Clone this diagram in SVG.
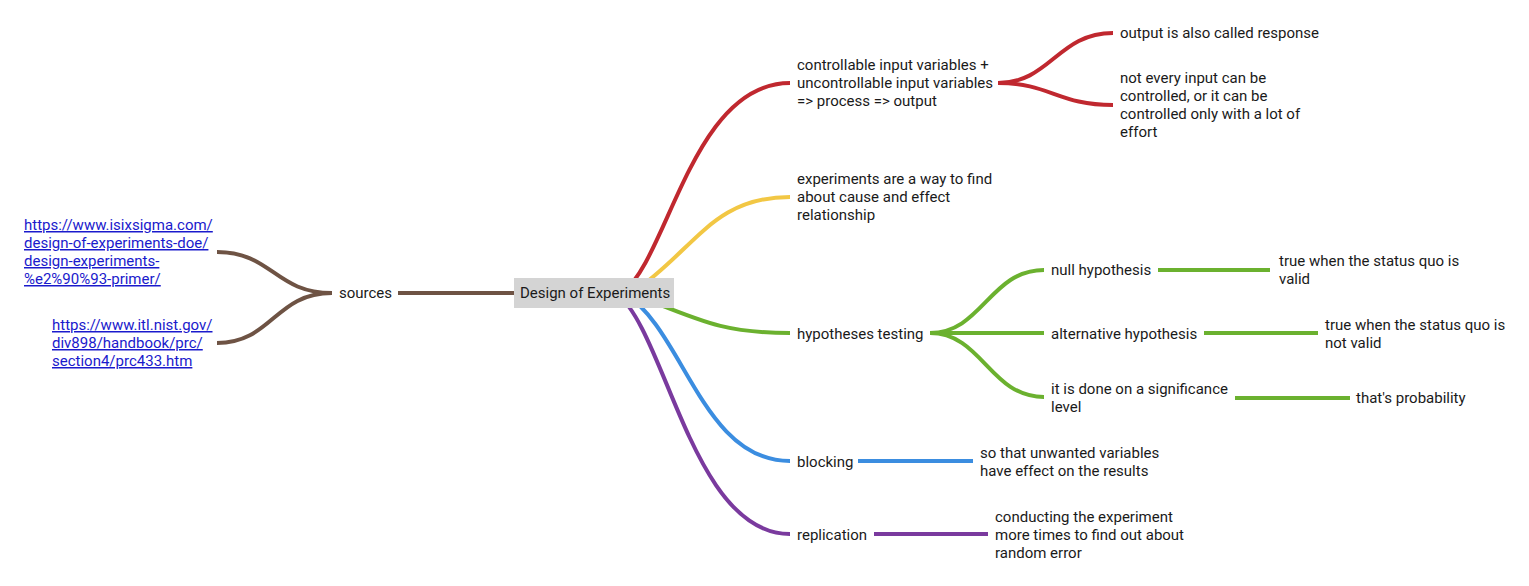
<svg xmlns="http://www.w3.org/2000/svg" width="1529" height="586" viewBox="0 0 1529 586">
<style>
text{font-family:Roboto,"Liberation Sans",sans-serif;font-size:15px;fill:#1a1a1a}
.lk{fill:#1a1acc;text-decoration:underline}
.c{fill:none;stroke-width:4;stroke-linecap:butt}
.red{stroke:#c0282f}.yel{stroke:#f2c744}.grn{stroke:#6bb12f}.blu{stroke:#3b8de0}.pur{stroke:#7a3a9e}.brn{stroke:#6e5344}
</style>
<rect width="1529" height="586" fill="#fff"/>
<g id="connectors">
<path class="c red" d="M622 293 C668 260 692 83 790 83"/>
<path class="c yel" d="M632 293 C695 250 712 197 790 197"/>
<path class="c grn" d="M630 293 C700 320 720 333 790 333"/>
<path class="c blu" d="M624 293 C684 330 702 461 790 461"/>
<path class="c pur" d="M616 293 C666 330 692 534 790 534"/>
<path class="c brn" d="M398 293 L514 293"/>
<path class="c brn" d="M332 293 C275 293 272 252 217 252"/>
<path class="c brn" d="M332 293 C275 293 272 343 217 343"/>
<path class="c red" d="M998 83 C1050 83 1058 33 1113 33"/>
<path class="c red" d="M998 83 C1050 83 1058 105 1113 105"/>
<path class="c grn" d="M930 333 C982 333 990 270 1044 270"/>
<path class="c grn" d="M930 333 L1044 333"/>
<path class="c grn" d="M930 333 C982 333 990 397 1044 397"/>
<path class="c grn" d="M1158 270 L1270 270"/>
<path class="c grn" d="M1204 333 L1318 333"/>
<path class="c grn" d="M1235 398 L1350 398"/>
<path class="c blu" d="M858 461 L973 461"/>
<path class="c pur" d="M874 534 L988 534"/>
</g>
<g id="root"><rect x="514" y="278" width="160" height="30" fill="#d4d4d4"/><text x="520" y="298">Design of Experiments</text></g>
<g id="sources"><text x="339" y="298">sources</text></g>
<g id="link1"><text class="lk"><tspan x="24" y="230">https://www.isixsigma.com/</tspan><tspan x="24" y="248">design-of-experiments-doe/</tspan><tspan x="24" y="266">design-experiments-</tspan><tspan x="24" y="284">%e2%90%93-primer/</tspan></text></g>
<g id="link2"><text class="lk"><tspan x="52" y="330">https://www.itl.nist.gov/</tspan><tspan x="52" y="348">div898/handbook/prc/</tspan><tspan x="52" y="366">section4/prc433.htm</tspan></text></g>
<g id="n-process"><text><tspan x="797" y="70">controllable input variables +</tspan><tspan x="797" y="88">uncontrollable input variables</tspan><tspan x="797" y="106">=&gt; process =&gt; output</tspan></text></g>
<g id="n-response"><text x="1120" y="38">output is also called response</text></g>
<g id="n-notevery"><text><tspan x="1120" y="83">not every input can be</tspan><tspan x="1120" y="101">controlled, or it can be</tspan><tspan x="1120" y="119">controlled only with a lot of</tspan><tspan x="1120" y="137">effort</tspan></text></g>
<g id="n-experiments"><text><tspan x="797" y="184">experiments are a way to find</tspan><tspan x="797" y="202">about cause and effect</tspan><tspan x="797" y="220">relationship</tspan></text></g>
<g id="n-hyp"><text x="797" y="339">hypotheses testing</text></g>
<g id="n-null"><text x="1051" y="275">null hypothesis</text></g>
<g id="n-nulltrue"><text><tspan x="1279" y="266">true when the status quo is</tspan><tspan x="1279" y="284">valid</tspan></text></g>
<g id="n-alt"><text x="1051" y="339">alternative hypothesis</text></g>
<g id="n-alttrue"><text><tspan x="1325" y="330">true when the status quo is</tspan><tspan x="1325" y="348">not valid</tspan></text></g>
<g id="n-sig"><text><tspan x="1051" y="394">it is done on a significance</tspan><tspan x="1051" y="412">level</tspan></text></g>
<g id="n-prob"><text x="1356" y="403">that's probability</text></g>
<g id="n-blocking"><text x="797" y="467">blocking</text></g>
<g id="n-unwanted"><text><tspan x="980" y="458">so that unwanted variables</tspan><tspan x="980" y="476">have effect on the results</tspan></text></g>
<g id="n-replication"><text x="797" y="540">replication</text></g>
<g id="n-conducting"><text><tspan x="995" y="522">conducting the experiment</tspan><tspan x="995" y="540">more times to find out about</tspan><tspan x="995" y="558">random error</tspan></text></g>
</svg>
